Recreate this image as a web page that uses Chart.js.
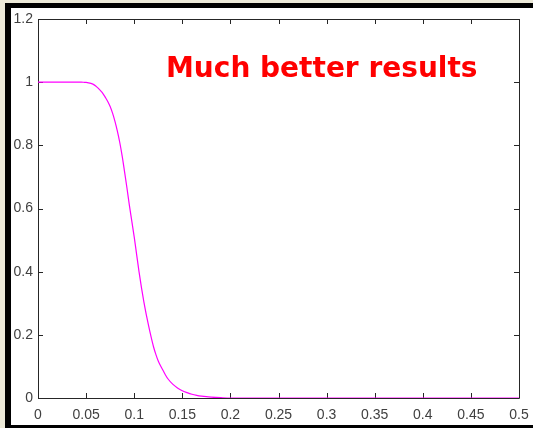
<!DOCTYPE html>
<html>
<head>
<meta charset="utf-8">
<script src="https://cdn.jsdelivr.net/npm/chart.js@4/dist/chart.umd.min.js"></script>
<style>
  html, body { margin: 0; padding: 0; background: #ECE9D8; }
  #wrap { position: relative; width: 533px; height: 428px; overflow: hidden; }
  #frame {
    position: absolute; left: 5px; top: 3px; width: 528px; height: 425px;
    box-sizing: border-box; background: #fff;
    border-left: 6px solid #000; border-top: 5px solid #000; border-bottom: 3px solid #000;
  }
  #c { position: absolute; left: 0; top: 0; }
</style>
</head>
<body>
<div id="wrap">
  <div id="frame"></div>
  <canvas id="c" width="533" height="428"></canvas>
</div>
<script>
// Filter response sampled along the normalized frequency axis
const freq = [0, 0.04, 0.045, 0.0475, 0.05, 0.0525, 0.055, 0.0575, 0.06, 0.0625, 0.065, 0.0675,
              0.07, 0.0725, 0.075, 0.0775, 0.08, 0.0825, 0.085, 0.0875, 0.09, 0.0925, 0.095,
              0.0975, 0.1, 0.1025, 0.105, 0.1075, 0.11, 0.1125, 0.115, 0.1175, 0.12, 0.1225,
              0.125, 0.1275, 0.13, 0.1325, 0.135, 0.14, 0.145, 0.15, 0.155, 0.16, 0.165,
              0.17, 0.175, 0.18, 0.19, 0.2, 0.5];
const response = [1, 1, 1, 0.9997, 0.9992, 0.998, 0.996, 0.993, 0.988, 0.981, 0.973, 0.964,
                  0.952, 0.939, 0.923, 0.902, 0.876, 0.845, 0.809, 0.766, 0.716, 0.664, 0.61,
                  0.56, 0.51, 0.455, 0.40, 0.35, 0.305, 0.265, 0.228, 0.194, 0.163, 0.138,
                  0.117, 0.101, 0.087, 0.073, 0.061, 0.044, 0.032, 0.023, 0.017, 0.012, 0.0085,
                  0.006, 0.0042, 0.003, 0.0012, 0, 0];

const xTicks = [0, 0.05, 0.1, 0.15, 0.2, 0.25, 0.3, 0.35, 0.4, 0.45, 0.5];
const xTickLabels = ['0', '0.05', '0.1', '0.15', '0.2', '0.25', '0.3', '0.35', '0.4', '0.45', '0.5'];
const yTicks = [0, 0.2, 0.4, 0.6, 0.8, 1, 1.2];
const yTickLabels = ['0', '0.2', '0.4', '0.6', '0.8', '1', '1.2'];

const annotationText = 'Much better results';

const AXIS_COLOR = '#262626';
const TICK_LEN = 5;

// Axes box with inward tick marks on all four sides, plus the red note
const boxPlugin = {
  id: 'box',
  beforeDatasetsDraw(chart) {
    const { ctx, chartArea: a, scales } = chart;
    ctx.save();
    ctx.strokeStyle = AXIS_COLOR;
    ctx.lineWidth = 1;
    ctx.beginPath();
    ctx.rect(Math.round(a.left) + 0.5, Math.round(a.top) + 0.5,
             Math.round(a.right - a.left), Math.round(a.bottom - a.top));
    ctx.stroke();
    ctx.beginPath();
    scales.x.ticks.forEach(t => {
      const px = Math.round(scales.x.getPixelForValue(t.value)) + 0.5;
      ctx.moveTo(px, a.bottom); ctx.lineTo(px, a.bottom - TICK_LEN);
      ctx.moveTo(px, a.top); ctx.lineTo(px, a.top + TICK_LEN);
    });
    scales.y.ticks.forEach(t => {
      const py = Math.round(scales.y.getPixelForValue(t.value)) + 0.5;
      ctx.moveTo(a.left, py); ctx.lineTo(a.left + TICK_LEN, py);
      ctx.moveTo(a.right, py); ctx.lineTo(a.right - TICK_LEN, py);
    });
    ctx.stroke();
    ctx.restore();
  },
  afterDraw(chart) {
    const { ctx } = chart;
    ctx.save();
    ctx.fillStyle = '#FF0000';
    ctx.font = 'bold 28px "DejaVu Sans"';
    ctx.textBaseline = 'alphabetic';
    ctx.textAlign = 'left';
    ctx.fillText(annotationText, 166, 77);
    ctx.restore();
  }
};

new Chart(document.getElementById('c'), {
  type: 'line',
  data: {
    datasets: [{
      data: freq.map((f, i) => ({ x: f, y: response[i] })),
      borderColor: '#FF00FF',
      borderWidth: 1.2,
      pointRadius: 0,
      fill: false,
      cubicInterpolationMode: 'monotone'
    }]
  },
  options: {
    responsive: false,
    animation: false,
    events: [],
    layout: { padding: { left: 0, top: 19, right: 14, bottom: 0 } },
    plugins: { legend: { display: false }, tooltip: { enabled: false }, title: { display: false } },
    scales: {
      x: {
        type: 'linear',
        min: 0, max: 0.5,
        afterBuildTicks: s => { s.ticks = xTicks.map(v => ({ value: v })); },
        afterFit: s => { s.height = 30; s.paddingLeft = 0; s.paddingRight = 0; },
        grid: { display: false, drawTicks: false },
        border: { display: false },
        ticks: {
          autoSkip: false, maxRotation: 0, padding: 9,
          color: '#404040',
          font: { family: '"Liberation Sans", Arial', size: 14 },
          callback: (v, i) => xTickLabels[i]
        }
      },
      y: {
        type: 'linear',
        min: 0, max: 1.2,
        afterBuildTicks: s => { s.ticks = yTicks.map(v => ({ value: v })); },
        afterFit: s => { s.width = 38; s.paddingTop = 0; s.paddingBottom = 0; },
        grid: { display: false, drawTicks: false },
        border: { display: false },
        ticks: {
          autoSkip: false, padding: 5,
          color: '#404040',
          font: { family: '"Liberation Sans", Arial', size: 14 },
          callback: (v, i) => yTickLabels[i]
        }
      }
    }
  },
  plugins: [boxPlugin]
});
</script>
</body>
</html>
